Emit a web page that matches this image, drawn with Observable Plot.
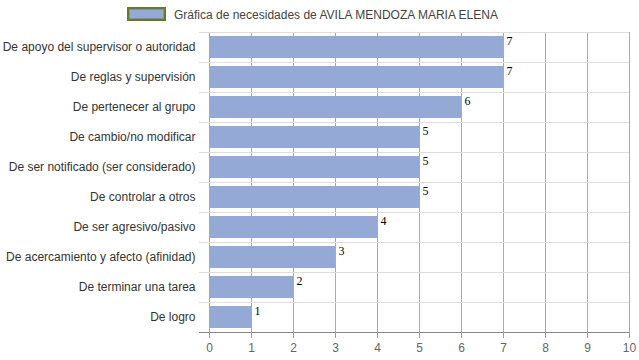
<!DOCTYPE html>
<html>
<head>
<meta charset="utf-8">
<script src="https://cdn.jsdelivr.net/npm/d3@7"></script>
<script src="https://cdn.jsdelivr.net/npm/@observablehq/plot@0.6"></script>
<style>
  html, body { margin: 0; padding: 0; background: #fff; }
  #legend { height: 28px; position: relative; font: 12px "Liberation Sans", Arial, sans-serif; color: #444; }
  #legend .sw { position: absolute; left: 127px; top: 7px; width: 35px; height: 10px; background: #94a9d6; border: 2px solid #6b7a1d; box-shadow: inset 0 0 0 1px #7e90bf; }
  #legend .lb { position: absolute; left: 174px; top: 8px; line-height: 14px; white-space: nowrap; }
</style>
</head>
<body>
<div id="legend"><div class="sw"></div><div class="lb"></div></div>
<div id="chart"></div>
<script>
const title = "Gráfica de necesidades de AVILA MENDOZA MARIA ELENA";
const categories = [
  "De apoyo del supervisor o autoridad",
  "De reglas y supervisión",
  "De pertenecer al grupo",
  "De cambio/no modificar",
  "De ser notificado (ser considerado)",
  "De controlar a otros",
  "De ser agresivo/pasivo",
  "De acercamiento y afecto (afinidad)",
  "De terminar una tarea",
  "De logro"
];
const values = [7, 7, 6, 5, 5, 5, 4, 3, 2, 1];
const xTicks = [0, 1, 2, 3, 4, 5, 6, 7, 8, 9, 10];

document.querySelector("#legend .lb").textContent = title;

const data = categories.map((c, i) => ({cat: c, value: values[i]}));

const chart = Plot.plot({
  width: 639,
  height: 332,
  marginTop: 4,
  marginBottom: 28,
  marginLeft: 209,
  marginRight: 10,
  style: {fontFamily: "'Liberation Sans', Arial, sans-serif", fontSize: "12px", background: "#fff"},
  x: {domain: [0, 10], ticks: xTicks, label: null},
  y: {domain: categories, paddingInner: 0.27, paddingOuter: 0.135, label: null},
  marks: [
    Plot.ruleX(xTicks, {x: d => d, stroke: "#aaa", strokeWidth: 1, strokeOpacity: 1}),
    Plot.ruleY(categories, {y: d => d, dy: -15, stroke: "#ddd", insetLeft: -10}),
    Plot.barX(data, {y: "cat", x: "value", fill: "#94a9d6"}),
    Plot.ruleY([categories[categories.length - 1]], {y: d => d, dy: 15, stroke: "#888", insetLeft: -10}),
    Plot.text(data, {y: "cat", x: "value", text: d => String(d.value), textAnchor: "start", dx: 3, dy: -6, fill: "#000", fontFamily: "'Liberation Serif', 'Times New Roman', serif", fontSize: 12}),
    Plot.axisX({ticks: xTicks, tickSize: 6, tickPadding: 5, stroke: "#999", color: "#666", label: null, fontSize: 12}),
    Plot.axisY({tickSize: 0, tickPadding: 14, color: "#333", label: null, fontSize: 12})
  ]
});
document.getElementById("chart").appendChild(chart);
</script>
</body>
</html>
